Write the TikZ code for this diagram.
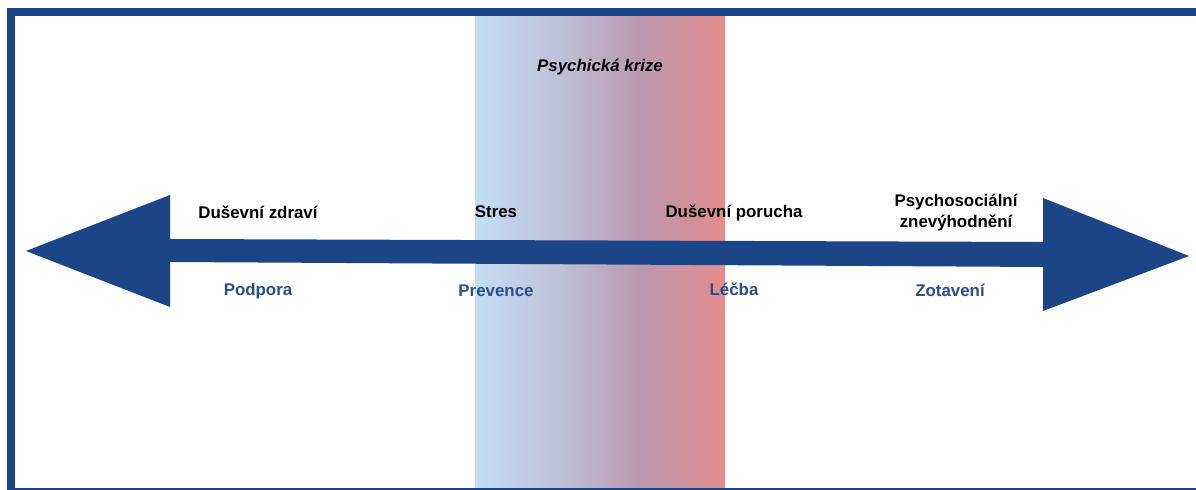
\documentclass[tikz,border=0pt]{standalone}
\usepackage{fontspec}
\setmainfont{Liberation Sans}
\usepackage{xcolor}
\definecolor{axisblue}{HTML}{1C4587}
\definecolor{careblue}{HTML}{2A4D8D}
\definecolor{crisisA}{HTML}{C4DEF4}
\definecolor{crisisB}{HTML}{BFC1D7}
\definecolor{crisisC}{HTML}{BC97AE}
\definecolor{crisisD}{HTML}{E48C8C}
\usepackage{tikz}
\usetikzlibrary{positioning}
\pgfdeclarehorizontalshading{crisisband}{100bp}{color(0bp)=(crisisA); color(25bp)=(crisisA); color(41.7bp)=(crisisB); color(58.3bp)=(crisisC); color(75bp)=(crisisD); color(100bp)=(crisisD)}

\begin{document}
\begin{tikzpicture}[x=0.025cm,y=-0.025cm,
  state/.style={font=\bfseries\fontsize{12}{15}\selectfont,anchor=base,align=center,inner sep=0pt},
  care/.style={state,text=careblue}]
\useasboundingbox (0,0) rectangle (1196,490);
% crisis band
\fill[shading=crisisband] (475,17) rectangle (725,488);
% frame
\draw[axisblue,line width=5.7pt] (11,490) -- (11,12) -- (1196,12);
\draw[axisblue,line width=1.4pt] (11,489) -- (1196,489);
% double arrow
\coordinate (west tip) at (26,251);
\coordinate (east tip) at (1189,256);
\fill[axisblue] (west tip) -- (170,195) -- (170,239) -- (1043,242) -- (1043,198)
  -- (east tip) -- (1043,311) -- (1043,267) -- (170,262) -- (170,307) -- cycle;
% labels
\node[state,font=\bfseries\itshape\fontsize{12}{15}\selectfont] (crisis) at (600,72) {Psychická krize};
\node[state] (health) at (258,219) {Duševní zdraví};
\node[state] (stress) at (496,218) {Stres};
\node[state] (disorder) at (734,218) {Duševní porucha};
\node[state] (handicap) at (956,228) {Psychosociální\\znevýhodnění};
\node[care] (support) at (258,296) {Podpora};
\node[care] (prevention) at (496,297) {Prevence};
\node[care] (treatment) at (734,296) {Léčba};
\node[care] (recovery) at (950,297) {Zotavení};
\end{tikzpicture}
\end{document}
